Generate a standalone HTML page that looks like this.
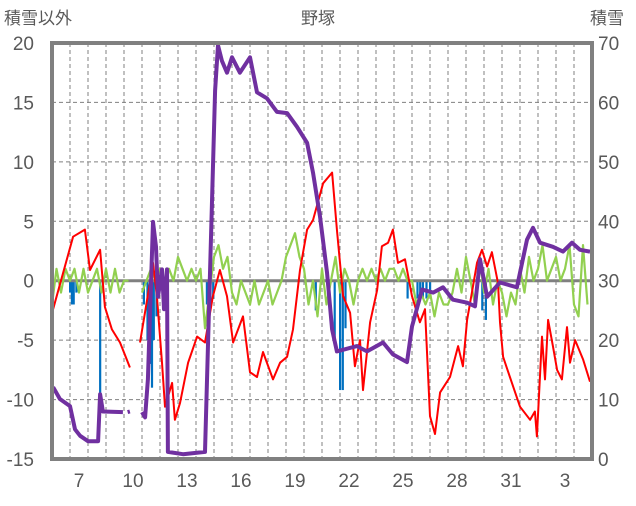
<!DOCTYPE html>
<html><head><meta charset="utf-8"><style>
html,body{margin:0;padding:0;background:#fff;}
svg text{font-family:"Liberation Sans","Noto Sans CJK JP",sans-serif;fill:#595959;}
</style></head><body>
<svg id="chart" width="636" height="501" viewBox="0 0 636 501">
<g id="grid"></g>
<g id="bars"></g>
<g id="lines"></g>
<g id="axes"></g>
<text x="4" y="24" font-size="17">積雪以外</text>
<text x="318" y="24" font-size="17" text-anchor="middle">野塚</text>
<text x="590" y="24" font-size="17">積雪</text>
</svg>
<script>
// ---- data ----
const xTickLabels = ["7","10","13","16","19","22","25","28","31","3"];
const xTickDays = [7,10,13,16,19,22,25,28,31,34];
const leftTicks = [20,15,10,5,0,-5,-10,-15];
const rightTicks = [70,60,50,40,30,20,10,0];
const tempDays = [6.06,7.17,7.83,8.11,8.67,8.94,9.33,9.78,9.94,10.33,null,10.89,11.44,11.61,11.83,12.11,12.28,12.67,12.83,13.11,13.56,14.06,14.5,14.94,15.33,15.72,16.06,16.61,17,17.39,17.72,18.28,18.67,19.06,19.39,19.78,20.17,20.5,21.06,21.56,21.83,22.17,22.56,22.83,23.11,23.28,23.67,24.06,24.33,24.67,24.94,25.22,25.61,26,26.44,26.72,27,27.28,27.56,28.11,28.56,28.83,29.06,29.33,29.61,29.89,30.17,30.44,30.78,30.89,31.06,31.44,32,32.56,32.83,32.94,33.22,33.39,33.56,33.83,34.06,34.33,34.61,34.78,35.06,35.5,35.89];
const tempVals = [-2.4,3.7,4.3,0.9,2.6,-2.2,-4.1,-5.2,-5.8,-7.3,null,-5.2,-0.2,1.5,-1.3,-6.9,-10.6,-8.6,-11.7,-10.3,-6.9,-4.7,-5.2,-1.3,0.9,-1.3,-5.2,-3,-7.7,-8.1,-6,-8.3,-6.9,-6.4,-4.1,0.9,4.3,5.1,8.2,9.1,4.3,-1.3,-2.7,-7.2,-5,-9.2,-3.5,-0.8,2.9,3.2,4.3,1.5,1.8,-1.3,-3.5,-2.4,-11.4,-12.9,-9.4,-8.1,-5.5,-7.2,-3.3,-1,1.5,2.6,1.2,2.4,-0.2,-3.5,-6.4,-8.1,-10.6,-11.7,-11,-13.1,-4.7,-8.3,-3.3,-5.5,-7.5,-8.3,-3.9,-6.9,-5,-6.6,-8.5];
const snowDays = [6.06,6.44,7,7.28,7.56,8,8.56,8.67,8.83,9.94,null,10.2,10.33,null,11,11.17,11.33,11.61,11.78,11.89,12.11,12.22,12.39,12.44,13.28,14.5,15.06,15.22,15.44,15.72,16,16.44,17,17.39,17.94,18.5,19.06,19.61,20.17,20.5,20.89,21.28,21.56,21.83,22.94,23.5,24.39,24.94,25.72,26,26.56,27.17,27.72,28.28,29.06,29.5,29.78,30.17,30.89,31.83,32.39,32.72,33.11,33.83,34.39,34.89,35.33,35.89];
const snowVals = [12.1,10.1,8.9,5,3.9,3,3,10.9,8,7.9,null,7.9,8,null,7.9,7,13.4,39.9,35.7,27.3,31.9,25.2,31.9,1.2,0.8,1.2,62,69.6,67,65,67.6,65,67.6,61.7,60.7,58.4,58.2,55.9,53.2,48.2,40.8,31.4,21.8,18.1,19,18.1,19.6,17.6,16.3,22.3,28.5,28,28.9,26.8,26.3,25.7,33.6,27.3,29.7,28.9,36.9,38.9,36.4,35.7,34.9,36.4,35.2,34.9];
const diffStart = 6;
const diffStep = 0.25;
const diffVals = [-2,1,-1,1,0,1,-1,1,-1,0,1,-1,1,-1,1,-1,0,0,null,null,
 -1,0,1,0,1,0,1,0,2,1,0,1,0,1,
 -4,-1, 2,3,1,2,
 -1,-2,0,-1,-2,0,-2,-1,0,-2,-1,0,
 2,3,4,2,
 1,-2,0,-3,1,-2,0,2,-1,1,0,-2,
 0,1,0,1,0,1,0,1,1,0,1,0,
 0,-2,-1,-2,-1,-3,-1,-2,-2,-1,
 1,-1,2,0,-2,2,-1,1,-2,0,
 -1,-3,-1,-2,
 1,-1,2,0,1,3,0,1,2,0,1,3,
 -2,-3,3,-2];
const lossDays = [7.0,7.1,7.2,7.35,8.67,11.1,11.3,11.45,11.55,11.65,11.8,14.6,14.8,14.95,20.65,21.7,22.0,22.15,22.3,25.75,26.3,26.45,26.6,26.8,27.0,29.9,30.1];
const lossVals = [-1,-2,-2,-1,-9.6,-2,-5,-7,-9,-5,-3,-2,-2,-1.5,-2.5,-5.2,-9.2,-9.2,-4,-1.5,-1.5,-1.5,-1.5,-1.5,-1,-2.5,-3.3];

// ---- axes ----
const L=52,R=592,T=43,B=459,D0=6,D1=36;
const xs=d=>L+(d-D0)*(R-L)/(D1-D0);
const yl=v=>T+(20-v)*(B-T)/35;
const yr=v=>T+(70-v)*(B-T)/70;
const NS="http://www.w3.org/2000/svg";
function mk(tag,attrs,parent){const e=document.createElementNS(NS,tag);for(const k in attrs)e.setAttribute(k,attrs[k]);parent.appendChild(e);return e;}
const grid=document.getElementById('grid'),axes=document.getElementById('axes'),bars=document.getElementById('bars'),lines=document.getElementById('lines');
for(let d=D0+1;d<D1;d++){
  const g=mk('line',{x1:xs(d),x2:xs(d),y1:T,y2:B,stroke:'#808080','stroke-width':1,'stroke-dasharray':'4,3'},grid);
  
  
}
leftTicks.forEach(v=>{
  if(v!==20&&v!==-15&&v!==0){
    const g=mk('line',{x1:L,x2:R,y1:yl(v),y2:yl(v),stroke:'#808080','stroke-width':1,'stroke-dasharray':'4,3'},grid);
    
    
  }
  const t=mk('text',{x:34,y:yl(v)+7,'font-size':19,'text-anchor':'end'},axes);t.textContent=v;
  
  
});
rightTicks.forEach(v=>{
  const t=mk('text',{x:598,y:yr(v)+7,'font-size':19},axes);t.textContent=v;
  
  
});
xTickDays.forEach((d,i)=>{
  const t=mk('text',{x:xs(d+0.5),y:487,'font-size':19,'text-anchor':'middle'},axes);t.textContent=xTickLabels[i];
  
  
});
// bars
lossDays.forEach((d,i)=>{
  const y0=yl(0),y1=yl(lossVals[i]);
  const b=mk('rect',{x:xs(d)-1,y:y0,width:2.2,height:y1-y0,fill:'#0070C0'},bars);
  
  
});
// zero line
const z=mk('line',{x1:L,x2:R,y1:yl(0),y2:yl(0),stroke:'#808080','stroke-width':3},lines);


function path(xsArr,ysArr,yf){let s='',pen=false;for(let i=0;i<xsArr.length;i++){if(xsArr[i]==null||ysArr[i]==null){pen=false;continue;}s+=(pen?'L':'M')+xs(xsArr[i]).toFixed(1)+','+yf(ysArr[i]).toFixed(1);pen=true;}return s;}
const diffDays=diffVals.map((v,i)=>diffStart+i*diffStep);
const pg=mk('path',{d:path(diffDays,diffVals,yl),fill:'none',stroke:'#92D050','stroke-width':2.2,'stroke-linejoin':'round'},lines);


const pr=mk('path',{d:path(tempDays,tempVals,yl),fill:'none',stroke:'#FF0000','stroke-width':2,'stroke-linejoin':'round'},lines);


const pp=mk('path',{d:path(snowDays,snowVals,yr),fill:'none',stroke:'#7030A0','stroke-width':4,'stroke-linejoin':'round'},lines);


const fr=mk('rect',{x:L,y:T,width:R-L,height:B-T,fill:'none',stroke:'#808080','stroke-width':4},axes);


</script>
</body></html>
